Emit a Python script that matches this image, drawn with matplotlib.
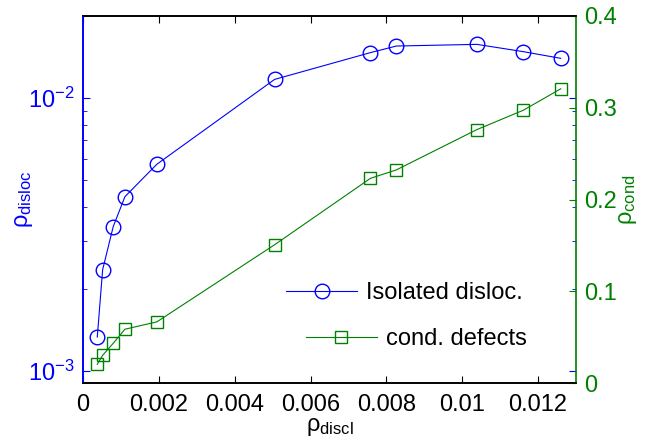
import matplotlib
matplotlib.use("Agg")
import matplotlib.pyplot as plt
import numpy as np

# data
rho_discl = [0.000376, 0.000518, 0.000797, 0.001105, 0.001947, 0.005053,
             0.007579, 0.008263, 0.010387, 0.011613, 0.012597]
rho_disloc = [1.33e-3, 2.35e-3, 3.38e-3, 4.35e-3, 5.72e-3, 1.171e-2,
              1.468e-2, 1.552e-2, 1.574e-2, 1.480e-2, 1.399e-2]
rho_cond = [0.0207, 0.0305, 0.0436, 0.0589, 0.0669, 0.1509,
            0.2232, 0.2324, 0.2763, 0.2974, 0.3207]

blue = (0, 0, 1)
green = (0, 0.5, 0)

plt.rcParams["font.family"] = ["Liberation Sans", "DejaVu Sans"]
plt.rcParams["mathtext.fontset"] = "custom"
plt.rcParams["mathtext.rm"] = "Liberation Sans"
plt.rcParams["mathtext.it"] = "Liberation Sans:italic"
plt.rcParams["font.size"] = 17

fig = plt.figure(figsize=(6.45, 4.48), dpi=100)
ax = fig.add_axes([0.1287, 0.1444, 0.7643, 0.8199])
ax2 = ax.twinx()

(h1,) = ax.plot(rho_discl, rho_disloc, "-o", color=blue, lw=0.8,
                ms=10.5, mfc="none", mew=1.0, label="Isolated disloc.")
(h2,) = ax2.plot(rho_discl, rho_cond, "-s", color=green, lw=0.8,
                 ms=8.5, mfc="none", mew=1.0, label="cond. defects")

ax.set_yscale("log")
ax.set_xlim(0, 0.013)
ax.set_ylim(9e-4, 2.0e-2)
ax2.set_ylim(0, 0.4)
ax.set_xticks([0, 0.002, 0.004, 0.006, 0.008, 0.01, 0.012])
ax.set_xticklabels(["0", "0.002", "0.004", "0.006", "0.008", "0.01", "0.012"])
ax2.set_yticks([0, 0.1, 0.2, 0.3, 0.4])
ax2.set_yticklabels(["0", "0.1", "0.2", "0.3", "0.4"])

ax.tick_params(axis="x", which="both", direction="in", top=True,
               length=5, colors="black", pad=8)
ax.tick_params(axis="y", which="major", direction="in", right=True,
               length=5, colors=blue, pad=6)
ax.tick_params(axis="y", which="minor", direction="in", right=True,
               length=3, colors=blue)
ax2.tick_params(axis="y", which="both", direction="in", length=5,
                colors=green, pad=6)

ax.spines["left"].set_color(blue)
ax2.spines["left"].set_color(blue)
ax2.spines["right"].set_color(green)
for a in (ax, ax2):
    for s in a.spines.values():
        s.set_linewidth(1.2)
ax.spines["right"].set_visible(False)

ax.set_xlabel(r"ρ$_{\rm discl}$", labelpad=0)
ax.set_ylabel(r"ρ$_{\rm disloc}$", color=blue)
ax.yaxis.set_label_coords(-0.098, 0.5)
ax2.set_ylabel(r"ρ$_{\rm cond}$", color=green)
ax2.yaxis.set_label_coords(1.083, 0.5)

leg1 = ax2.legend([h1], ["Isolated disloc."], loc="center right",
                  bbox_to_anchor=(0.893, 0.246), frameon=False,
                  borderpad=0, borderaxespad=0, handlelength=3.0,
                  handletextpad=0.4)
ax2.add_artist(leg1)
ax2.legend([h2], ["cond. defects"], loc="center right",
           bbox_to_anchor=(0.901, 0.121), frameon=False,
           borderpad=0, borderaxespad=0, handlelength=3.0,
           handletextpad=0.4)

plt.savefig("out.png", dpi=100)
